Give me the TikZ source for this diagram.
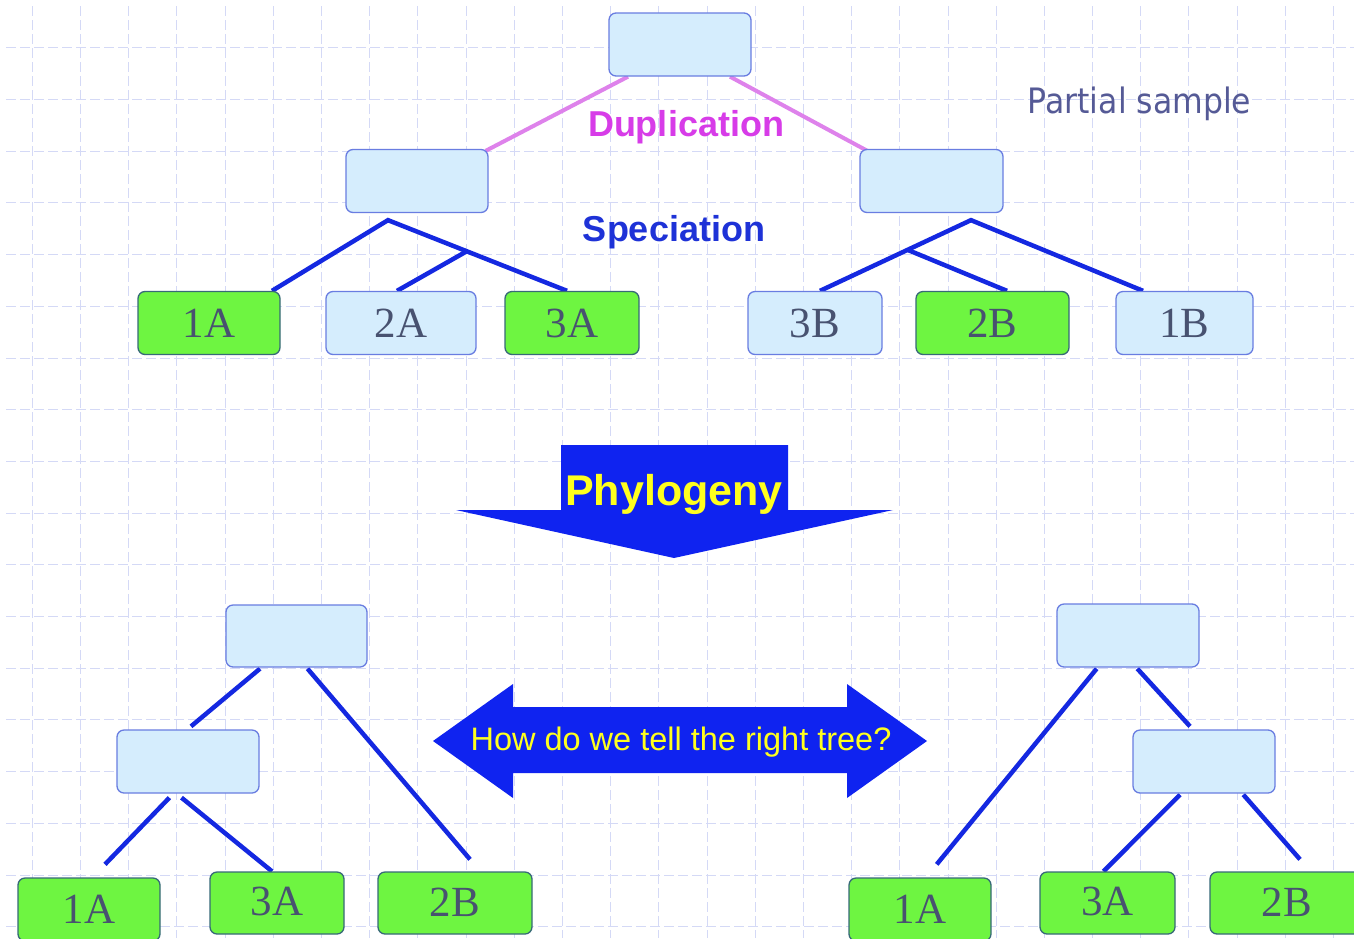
\documentclass[tikz,border=0pt]{standalone}
\usepackage{fontspec}
\usepackage{graphicx}
\setmainfont{Liberation Serif}
\newfontfamily\arialf{Liberation Sans}
\newfontfamily\dejavuf{DejaVu Sans}
\usetikzlibrary{calc}
\pgfdeclarelayer{gridlayer}
\pgfdeclarelayer{linklayer}
\pgfsetlayers{gridlayer,linklayer,main}
\definecolor{gridc}{RGB}{212,217,246}
\definecolor{boxfill}{RGB}{213,237,253}
\definecolor{boxline}{RGB}{105,125,225}
\definecolor{leafgreen}{RGB}{110,245,65}
\definecolor{greenline}{RGB}{55,105,120}
\definecolor{branchblue}{RGB}{20,40,225}
\definecolor{dupviolet}{RGB}{222,130,235}
\definecolor{duptext}{RGB}{215,60,232}
\definecolor{spectext}{RGB}{30,50,215}
\definecolor{sampletext}{RGB}{85,90,150}
\definecolor{leaftext}{RGB}{72,82,112}
\definecolor{arrowblue}{RGB}{15,35,240}
\definecolor{arrowtext}{RGB}{255,255,30}
\tikzset{
  gridline/.style={draw=gridc, line width=0.8pt, dash pattern=on 10pt off 4pt},
  innerbox/.style={draw=boxline, fill=boxfill, rounded corners=7pt, line width=1.3pt, inner sep=0pt, minimum height=63pt},
  blueleaf/.style={innerbox, font=\fontsize{43}{46}\selectfont, text=leaftext},
  greenleaf/.style={innerbox, draw=greenline, fill=leafgreen, font=\fontsize{43}{46}\selectfont, text=leaftext},
  branch/.style={draw=branchblue, line width=4.5pt},
  dupline/.style={draw=dupviolet, line width=4pt},
  arrowshape/.style={fill=arrowblue},
}
\begin{document}
\begin{tikzpicture}[x=1pt,y=-1pt]
\useasboundingbox (0,0) rectangle (1354,938);
\clip (0,0) rectangle (1354,938);
\begin{pgfonlayer}{gridlayer}
\fill[white] (0,0) rectangle (1354,938);
\foreach \i in {0,...,27} \draw[gridline] ({32.3+48.19*\i},6) -- ({32.3+48.19*\i},938);
\foreach \j in {0,...,17} \draw[gridline] (6,{47.7+51.7*\j}) -- (1354,{47.7+51.7*\j});
\end{pgfonlayer}

% ---------- top tree ----------
\node[innerbox, minimum width=142pt] (troot) at (680,44.5) {};
\node[innerbox, minimum width=142pt] (tlmid) at (417,181) {};
\node[innerbox, minimum width=143pt] (trmid) at (931.5,181) {};
\node[greenleaf, minimum width=142pt] (t1A) at (209,323) {1A};
\node[blueleaf, minimum width=150pt] (t2A) at (401,323) {2A};
\node[greenleaf, minimum width=134pt] (t3A) at (572,323) {3A};
\node[blueleaf, minimum width=134pt] (t3B) at (815,323) {3B};
\node[greenleaf, minimum width=153pt] (t2B) at (992.5,323) {2B};
\node[blueleaf, minimum width=137pt] (t1B) at (1184.5,323) {1B};

\node[anchor=base, text=duptext, font=\arialf\bfseries\fontsize{36}{40}\selectfont] (duplab) at (686,136) {Duplication};
\node[anchor=base, text=spectext, font=\arialf\bfseries\fontsize{36}{40}\selectfont] (speclab) at (674,241) {Speciation};
\node[anchor=base, text=sampletext, font=\dejavuf\fontsize{35}{40}\selectfont] (samplelab) at (1139.5,113) {\scalebox{0.9}[1]{Partial sample}};

\begin{pgfonlayer}{linklayer}
\coordinate (tlapex) at ($(tlmid.south)+(-29,7)$);
\coordinate (trapex) at ($(trmid.south)+(39.5,7)$);
\coordinate (t3Aend) at ($(t3A.north)+(-5,0)$);
\coordinate (t3Bend) at ($(t3B.north)+(5,0)$);
\draw[dupline] ($(troot.south)+(-52,0)$) -- ($(tlmid.north east)+(-3,2)$);
\draw[dupline] ($(troot.south)+(50,0)$) -- ($(trmid.north west)+(8,2)$);
\draw[branch] ($(t1A.north)+(63,0)$) -- (tlapex) -- (t3Aend);
\draw[branch] ($(tlapex)!0.44!(t3Aend)$) -- ($(t2A.north)+(-4,0)$);
\draw[branch] (t3Bend) -- (trapex) -- ($(t1B.north)+(-41.5,0)$);
\draw[branch] ($(trapex)!0.42!(t3Bend)$) -- ($(t2B.north)+(14.5,0)$);
\end{pgfonlayer}

% ---------- arrows ----------
\fill[arrowshape] (561,445) -- (788,445) -- (788,510) -- (893,510) -- (674,558) -- (456,510) -- (561,510) -- cycle;
\node[anchor=base, text=arrowtext, font=\arialf\bfseries\fontsize{43}{48}\selectfont] (phylab) at (674,505) {Phylogeny};
\fill[arrowshape] (433,741) -- (513,684) -- (513,707) -- (847,707) -- (847,684) -- (927,741) -- (847,798) -- (847,773) -- (513,773) -- (513,798) -- cycle;
\node[anchor=base, text=arrowtext, font=\arialf\fontsize{32.5}{36}\selectfont] (qlab) at (681,750) {How do we tell the right tree?};

% ---------- bottom-left tree ----------
\node[innerbox, minimum width=141pt, minimum height=62pt] (blroot) at (296.5,636) {};
\node[innerbox, minimum width=142pt] (blmid) at (188,761.5) {};
\node[greenleaf, minimum width=142pt] (bl1A) at (89,909.5) {1A};
\node[greenleaf, minimum width=134pt, minimum height=62pt] (bl3A) at (277,903) {\raisebox{4pt}{3A}};
\node[greenleaf, minimum width=154pt, minimum height=62pt] (bl2B) at (455,903) {\raisebox{1pt}{2B}};
\begin{pgfonlayer}{linklayer}
\draw[branch] ($(blroot.south)+(-36.5,1)$) -- ($(blmid.north)+(3,-3)$);
\draw[branch] ($(blroot.south)+(11,1)$) -- ($(bl2B.north)+(15,-12)$);
\draw[branch] ($(blmid.south)+(-18.6,4)$) -- ($(bl1A.north)+(16,-13)$);
\draw[branch] ($(blmid.south)+(-6.5,4)$) -- ($(bl3A.north)+(-5,0)$);
\end{pgfonlayer}

% ---------- bottom-right tree ----------
\node[innerbox, minimum width=142pt] (brroot) at (1128,635.5) {};
\node[innerbox, minimum width=142pt] (brmid) at (1204,761.5) {};
\node[greenleaf, minimum width=142pt] (br1A) at (920,909.5) {1A};
\node[greenleaf, minimum width=135pt, minimum height=62pt] (br3A) at (1107.5,903) {\raisebox{4pt}{3A}};
\node[greenleaf, minimum width=154pt, minimum height=62pt] (br2B) at (1287,903) {\raisebox{1pt}{2B}};
\begin{pgfonlayer}{linklayer}
\draw[branch] ($(brroot.south)+(-31.3,1)$) -- ($(br1A.north)+(16.7,-13)$);
\draw[branch] ($(brroot.south)+(9.3,1)$) -- ($(brmid.north)+(-14,-3)$);
\draw[branch] ($(brmid.south)+(-24,1)$) -- ($(br3A.north)+(-4,0)$);
\draw[branch] ($(brmid.south)+(39.3,1)$) -- ($(br2B.north)+(13,-12)$);
\end{pgfonlayer}
\end{tikzpicture}
\end{document}
